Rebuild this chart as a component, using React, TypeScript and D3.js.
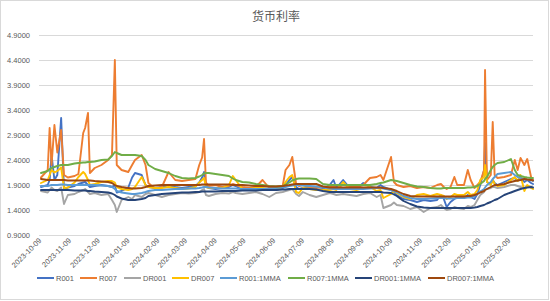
import React from "react";
import * as d3 from "d3";

const dates = [
  "2023-10-09","2023-10-16","2023-10-18","2023-10-20","2023-10-23","2023-10-26","2023-10-30","2023-11-02","2023-11-06","2023-11-13",
  "2023-11-17","2023-11-22","2023-11-24","2023-11-27","2023-11-29","2023-12-04","2023-12-11","2023-12-18","2023-12-22","2023-12-25",
  "2023-12-27","2024-01-01","2024-01-08","2024-01-12","2024-01-15","2024-01-22","2024-01-26","2024-01-29","2024-02-05","2024-02-12",
  "2024-02-19","2024-02-26","2024-03-04","2024-03-11","2024-03-18","2024-03-22","2024-03-25","2024-03-27","2024-03-29","2024-04-01",
  "2024-04-08","2024-04-15","2024-04-22","2024-04-26","2024-04-29","2024-05-06","2024-05-13","2024-05-20","2024-05-27","2024-06-03",
  "2024-06-10","2024-06-17","2024-06-20","2024-06-24","2024-06-27","2024-07-01","2024-07-04","2024-07-08","2024-07-15","2024-07-22",
  "2024-07-29","2024-08-05","2024-08-09","2024-08-12","2024-08-19","2024-08-26","2024-09-02","2024-09-09","2024-09-16","2024-09-23",
  "2024-09-27","2024-09-30","2024-10-08","2024-10-11","2024-10-14","2024-10-21","2024-10-28","2024-11-04","2024-11-11","2024-11-18",
  "2024-11-25","2024-11-29","2024-12-02","2024-12-05","2024-12-09","2024-12-13","2024-12-16","2024-12-23","2024-12-27","2024-12-30",
  "2025-01-03","2025-01-06","2025-01-09","2025-01-13","2025-01-14","2025-01-16","2025-01-20","2025-01-22","2025-01-24","2025-01-27",
  "2025-02-03","2025-02-10","2025-02-14","2025-02-17","2025-02-20","2025-02-24","2025-02-27","2025-03-03","2025-03-05",
];

const r001 = [
  1.86,1.90,2.00,2.50,2.00,2.10,3.24,1.80,1.85,1.88,
  1.92,1.95,1.96,1.90,1.86,1.88,1.90,1.88,1.86,1.90,
  1.75,1.78,1.85,2.05,2.14,2.10,1.90,1.86,1.84,1.86,
  1.90,1.86,1.84,1.86,1.88,1.95,2.05,2.16,1.90,1.84,
  1.82,1.84,1.86,1.90,1.88,1.80,1.80,1.82,1.82,1.80,
  1.80,1.84,1.90,2.00,2.06,1.86,1.82,1.84,1.86,1.80,
  1.82,1.90,2.00,1.84,2.00,1.84,1.82,1.94,1.86,1.84,
  1.90,1.86,1.80,1.76,1.70,1.62,1.60,1.56,1.60,1.58,
  1.60,1.70,1.62,1.46,1.56,1.62,1.66,1.64,1.70,1.66,
  1.62,1.72,1.90,2.20,2.74,1.96,1.92,2.00,1.94,1.90,
  1.96,2.02,2.04,1.98,2.06,1.96,2.00,1.94,1.92,
];

const r007 = [
  2.05,2.20,3.04,2.30,3.10,2.55,3.00,2.10,2.05,2.08,
  2.12,2.94,3.04,3.34,2.14,2.24,2.30,2.40,2.50,4.40,
  2.30,2.20,2.16,2.30,2.40,2.50,2.30,1.94,1.82,1.86,
  2.16,2.00,1.98,2.00,2.02,2.30,2.45,2.82,1.95,1.88,
  1.90,1.86,1.88,1.92,1.90,1.86,1.84,1.86,2.00,1.84,
  1.84,1.88,2.20,2.30,2.46,1.92,1.88,1.90,1.86,1.84,
  1.86,1.86,1.88,1.84,1.90,1.88,1.86,1.90,2.04,2.06,
  2.10,2.00,2.46,1.96,1.90,1.86,1.88,1.84,1.86,1.84,
  1.90,1.92,1.86,1.82,1.86,2.06,1.90,1.90,2.20,2.00,
  1.84,1.90,1.96,2.20,4.20,2.00,2.10,3.16,2.10,2.04,
  2.06,2.10,2.40,2.20,2.44,2.30,2.42,2.06,2.00,
];

const dr001 = [
  1.78,1.75,1.80,1.85,1.80,1.78,1.85,1.52,1.70,1.72,
  1.76,1.80,1.82,1.76,1.72,1.74,1.70,1.72,1.60,1.50,
  1.36,1.60,1.66,1.62,1.70,1.66,1.72,1.74,1.70,1.66,
  1.70,1.72,1.74,1.73,1.74,1.76,1.80,1.82,1.70,1.68,
  1.72,1.74,1.73,1.76,1.74,1.72,1.74,1.76,1.72,1.66,
  1.74,1.76,1.78,1.80,1.82,1.72,1.68,1.76,1.70,1.66,
  1.70,1.74,1.72,1.70,1.72,1.70,1.68,1.72,1.74,1.66,
  1.70,1.44,1.50,1.55,1.50,1.48,1.42,1.46,1.36,1.44,
  1.46,1.50,1.44,1.40,1.42,1.46,1.44,1.42,1.48,1.46,
  1.50,1.60,1.70,1.76,1.80,1.82,1.84,1.86,1.86,1.84,
  1.86,1.90,1.90,1.88,1.86,1.84,1.88,1.86,1.84,
];

const dr007 = [
  1.94,2.00,2.10,2.20,2.15,2.18,2.25,1.84,1.85,1.95,
  2.06,2.16,2.12,2.00,1.90,1.92,1.96,1.98,1.98,1.95,
  1.86,1.82,1.80,1.82,1.86,2.06,1.90,1.86,1.84,1.84,
  1.86,1.84,1.82,1.83,1.86,1.95,2.00,2.04,1.86,1.84,
  1.84,1.84,1.90,2.08,2.00,1.82,1.82,1.84,1.84,1.82,
  1.82,1.86,1.96,2.06,2.10,1.76,1.74,1.84,1.82,1.80,
  1.80,1.80,1.82,1.80,1.96,1.82,1.80,1.84,1.86,1.78,
  1.80,1.64,1.72,1.78,1.74,1.66,1.62,1.70,1.72,1.68,
  1.72,1.70,1.68,1.62,1.66,1.72,1.70,1.70,1.76,1.70,
  1.72,1.80,2.00,2.06,2.30,1.96,1.90,2.00,1.92,1.88,
  1.90,2.00,2.06,1.98,2.10,1.78,1.90,1.84,1.82,
];

const r001Mma = [
  1.88,1.88,1.89,1.90,1.90,1.90,1.91,1.91,1.90,1.90,
  1.90,1.90,1.90,1.90,1.90,1.90,1.89,1.88,1.86,1.82,
  1.78,1.75,1.73,1.72,1.72,1.74,1.76,1.78,1.80,1.80,
  1.81,1.82,1.82,1.83,1.83,1.84,1.85,1.86,1.86,1.85,
  1.84,1.83,1.83,1.83,1.83,1.82,1.82,1.82,1.82,1.83,
  1.84,1.85,1.86,1.88,1.89,1.90,1.90,1.89,1.88,1.87,
  1.85,1.83,1.82,1.82,1.82,1.82,1.82,1.82,1.83,1.84,
  1.84,1.83,1.80,1.78,1.76,1.68,1.64,1.62,1.62,1.63,
  1.64,1.64,1.64,1.63,1.63,1.63,1.64,1.64,1.65,1.65,
  1.68,1.72,1.77,1.82,1.85,1.90,1.96,2.02,2.06,2.12,
  2.14,2.16,2.10,2.06,2.04,2.02,2.01,2.00,1.98,
];

const r007Mma = [
  2.14,2.18,2.22,2.24,2.26,2.28,2.30,2.30,2.30,2.33,
  2.34,2.35,2.35,2.36,2.36,2.37,2.40,2.41,2.48,2.56,
  2.54,2.50,2.50,2.50,2.50,2.48,2.40,2.30,2.22,2.18,
  2.14,2.08,2.04,2.03,2.04,2.07,2.10,2.13,2.14,2.14,
  2.12,2.10,2.08,2.03,2.00,1.96,1.95,1.92,1.90,1.88,
  1.87,1.88,1.91,1.95,1.99,2.02,2.03,2.03,2.03,2.02,
  1.92,1.90,1.90,1.90,1.90,1.90,1.90,1.90,1.90,1.92,
  1.94,1.95,2.00,1.99,1.98,1.94,1.90,1.87,1.86,1.84,
  1.83,1.83,1.84,1.84,1.84,1.84,1.84,1.84,1.85,1.85,
  1.86,1.88,1.92,1.98,2.02,2.06,2.20,2.26,2.30,2.34,
  2.36,2.42,2.20,2.10,2.08,2.06,2.05,2.04,2.04,
];

const dr001Mma = [
  1.80,1.80,1.80,1.80,1.80,1.80,1.80,1.80,1.80,1.79,
  1.79,1.79,1.79,1.78,1.78,1.77,1.76,1.75,1.73,1.70,
  1.67,1.63,1.60,1.60,1.60,1.62,1.64,1.68,1.70,1.72,
  1.73,1.74,1.75,1.75,1.76,1.76,1.77,1.77,1.77,1.77,
  1.77,1.78,1.78,1.78,1.78,1.79,1.79,1.79,1.80,1.80,
  1.80,1.81,1.81,1.82,1.82,1.82,1.82,1.82,1.82,1.81,
  1.78,1.76,1.76,1.76,1.76,1.76,1.76,1.76,1.76,1.76,
  1.76,1.75,1.74,1.71,1.68,1.58,1.52,1.47,1.45,1.44,
  1.44,1.44,1.44,1.44,1.44,1.44,1.44,1.44,1.44,1.44,
  1.45,1.46,1.48,1.50,1.51,1.53,1.56,1.58,1.60,1.62,
  1.70,1.75,1.78,1.80,1.82,1.84,1.85,1.86,1.85,
];

const dr007Mma = [
  2.02,2.00,2.00,2.00,2.00,2.00,2.00,2.00,1.99,1.99,
  1.99,1.99,1.99,1.99,1.99,1.98,1.97,1.96,1.94,1.90,
  1.88,1.86,1.84,1.83,1.83,1.84,1.86,1.88,1.89,1.90,
  1.90,1.90,1.90,1.90,1.90,1.90,1.91,1.91,1.91,1.91,
  1.91,1.91,1.91,1.90,1.90,1.90,1.89,1.88,1.88,1.87,
  1.87,1.88,1.89,1.90,1.91,1.92,1.92,1.92,1.92,1.92,
  1.87,1.85,1.85,1.85,1.85,1.85,1.85,1.85,1.85,1.85,
  1.85,1.84,1.82,1.80,1.78,1.72,1.68,1.67,1.67,1.67,
  1.67,1.67,1.67,1.67,1.67,1.67,1.67,1.67,1.68,1.68,
  1.70,1.72,1.75,1.78,1.80,1.82,1.86,1.88,1.90,1.90,
  1.92,1.96,1.98,1.99,2.00,2.02,2.01,2.00,1.99,
];

const seriesNames = ["R001", "R007", "DR001", "DR007", "R001:1MMA", "R007:1MMA", "DR001:1MMA", "DR007:1MMA"];
const seriesValues = [r001, r007, dr001, dr007, r001Mma, r007Mma, dr001Mma, dr007Mma];
const seriesColors = ["#4472C4", "#ED7D31", "#A5A5A5", "#FFC000", "#5B9BD5", "#70AD47", "#264478", "#9E480E"];

const yTicks = [0.9, 1.4, 1.9, 2.4, 2.9, 3.4, 3.9, 4.4, 4.9];
const xTickLabels = [
  "2023-10-09","2023-11-09","2023-12-09","2024-01-09","2024-02-09","2024-03-09","2024-04-09","2024-05-09","2024-06-09",
  "2024-07-09","2024-08-09","2024-09-09","2024-10-09","2024-11-09","2024-12-09","2025-01-09","2025-02-09",
];
const title = "货币利率";

const W = 550;
const H = 301;
const parse = d3.timeParse("%Y-%m-%d");

export default function App() {
  const x = d3
    .scaleTime()
    .domain([parse("2023-10-09") as Date, parse("2025-03-05") as Date])
    .range([41, 533]);
  const y = d3.scaleLinear().domain([0.9, 4.9]).range([235, 35]);
  const parsedDates = dates.map((d) => parse(d) as Date);
  const fmt = d3.format(".4f");
  const textColor = "#595959";
  const numFont = "'Liberation Sans', Arial, sans-serif";

  const legendX = [37, 80, 124, 172, 220, 288, 355, 428];

  return (
    <svg
      width={W}
      height={H}
      style={{ position: "absolute", left: 0, top: 0, display: "block", background: "#fff" }}
    >
      <rect x={0.5} y={0.5} width={548} height={299} fill="#fff" stroke="#d9d9d9" strokeWidth={1} />
      <text
        x={276}
        y={21}
        textAnchor="middle"
        fontFamily="'Noto Sans CJK SC', sans-serif"
        fontSize={12}
        fill={textColor}
      >
        {title}
      </text>
      {yTicks.map((t) => (
        <g key={t}>
          <line x1={39} x2={533} y1={Math.round(y(t)) + 0.5} y2={Math.round(y(t)) + 0.5} stroke="#d9d9d9" strokeWidth={1} />
          <text
            x={30}
            y={y(t) + 2.7}
            textAnchor="end"
            fontFamily={numFont}
            fontSize={7.5}
            fill={textColor}
          >
            {fmt(t)}
          </text>
        </g>
      ))}
      {xTickLabels.map((lbl) => {
        const px = x(parse(lbl) as Date);
        return (
          <text
            key={lbl}
            transform={`translate(${px + 1},${241}) rotate(-45)`}
            textAnchor="end"
            fontFamily={numFont}
            fontSize={7.5}
            fill={textColor}
          >
            {lbl}
          </text>
        );
      })}
      {seriesValues.map((vals, si) => {
        const n = Math.min(vals.length, parsedDates.length);
        const pts: [number, number][] = [];
        for (let i = 0; i < n; i++) pts.push([x(parsedDates[i]), y(vals[i])]);
        const path = d3.line()(pts) || "";
        return (
          <path
            key={seriesNames[si]}
            d={path}
            fill="none"
            stroke={seriesColors[si]}
            strokeWidth={1.9}
            strokeLinejoin="round"
            strokeLinecap="round"
          />
        );
      })}
      {seriesNames.map((name, i) => (
        <g key={name}>
          <line
            x1={legendX[i]}
            x2={legendX[i] + 17}
            y1={278}
            y2={278}
            stroke={seriesColors[i]}
            strokeWidth={2}
          />
          <text x={legendX[i] + 19} y={280.7} fontFamily={numFont} fontSize={7.5} fill={textColor}>
            {name}
          </text>
        </g>
      ))}
    </svg>
  );
}
